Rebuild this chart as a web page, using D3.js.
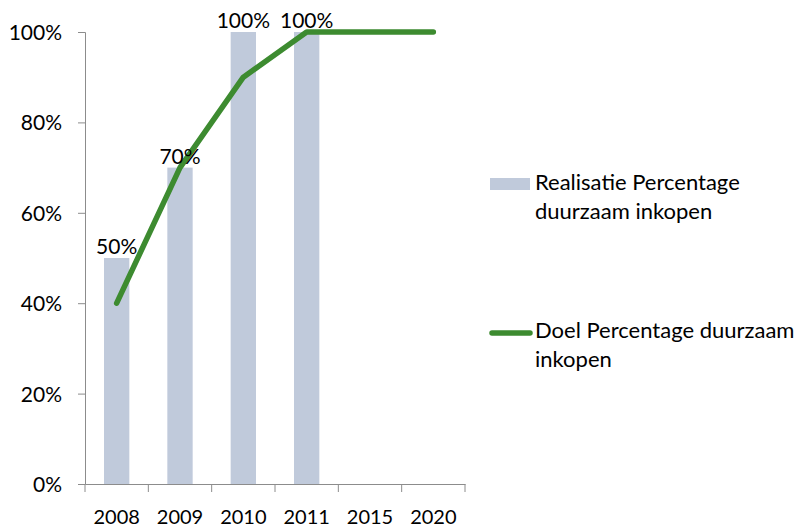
<!DOCTYPE html>
<html>
<head>
<meta charset="utf-8">
<script src="https://cdn.jsdelivr.net/npm/d3@7"></script>
<style>
  body { margin: 0; background: #fff; }
  text { font-family: Lato, "Open Sans", sans-serif; fill: #000; }
</style>
</head>
<body>
<svg id="chart" width="802" height="527"></svg>
<script>
// Chart data
const years = ["2008", "2009", "2010", "2011", "2015", "2020"];
const realisatie = [0.5, 0.7, 1.0, 1.0, null, null];
const doel = [0.4, 0.7, 0.9, 1.0, 1.0, 1.0];
const yTicks = [0, 0.2, 0.4, 0.6, 0.8, 1.0];
const legendLabels = [
  ["Realisatie Percentage", "duurzaam inkopen"],
  ["Doel Percentage duurzaam", "inkopen"]
];

const barColor = "#c0cadb";
const lineColor = "#3d8b30";
const axisColor = "#8c8c8c";

let margin = {top: 32, right: 337, bottom: 43, left: 85},
    width = 802 - margin.left - margin.right,
    height = 527 - margin.top - margin.bottom;

let svg = d3.select("#chart")
  .append("g")
  .attr("transform", "translate(" + margin.left + "," + margin.top + ")");

let x = d3.scaleBand().domain(years).range([0, width]).padding(0);
let y = d3.scaleLinear().domain([0, 1]).range([height, 0]);
let barW = x.bandwidth() * 0.4;

// Bars
let barData = years.map((d, i) => ({year: d, v: realisatie[i]})).filter(d => d.v != null);
svg.selectAll(".bar")
  .data(barData)
  .enter().append("rect")
  .attr("class", "bar")
  .attr("x", d => x(d.year) + x.bandwidth() / 2 - barW / 2)
  .attr("width", barW)
  .attr("y", d => y(d.v))
  .attr("height", d => height - y(d.v))
  .attr("fill", barColor);

// Y axis
let yAxis = svg.append("g")
  .call(d3.axisLeft(y).tickValues(yTicks).tickFormat(d3.format(".0%")).tickSize(7).tickPadding(16));
yAxis.selectAll("line, path").attr("stroke", axisColor);
yAxis.selectAll("text").style("font-size", "21px").attr("dy", "0.36em");

// X axis: line + boundary ticks + labels
let xAxis = svg.append("g")
  .attr("transform", "translate(0," + height + ")")
  .call(d3.axisBottom(x).tickSize(0).tickPadding(0));
xAxis.select(".domain").attr("stroke", axisColor);
xAxis.selectAll("text").style("font-size", "20px").attr("y", 40).attr("dy", 0);
let bounds = years.map(d => x(d)).concat([x(years[years.length - 1]) + x.bandwidth()]);
xAxis.selectAll(".bound")
  .data(bounds)
  .enter().append("line")
  .attr("x1", d => d).attr("x2", d => d)
  .attr("y1", 0).attr("y2", 8)
  .attr("stroke", axisColor);

// Line
let valueline = d3.line()
  .x((d, i) => x(years[i]) + x.bandwidth() / 2)
  .y(d => y(d));
svg.append("path")
  .datum(doel)
  .attr("d", valueline)
  .attr("fill", "none")
  .attr("stroke", lineColor)
  .attr("stroke-width", 5.5)
  .attr("stroke-linecap", "round")
  .attr("stroke-linejoin", "round");

// Data labels
svg.selectAll(".lbl")
  .data(barData)
  .enter().append("text")
  .attr("x", d => x(d.year) + x.bandwidth() / 2)
  .attr("y", d => y(d.v) - 4)
  .attr("text-anchor", "middle")
  .style("font-size", "21px")
  .text(d => d3.format(".0%")(d.v));

// Legend
let legend = d3.select("#chart").append("g").attr("transform", "translate(490,0)");
legend.append("rect").attr("x", 0).attr("y", 178).attr("width", 40).attr("height", 12).attr("fill", barColor);
legend.append("line").attr("x1", 2).attr("x2", 40).attr("y1", 333).attr("y2", 333)
  .attr("stroke", lineColor).attr("stroke-width", 5.5).attr("stroke-linecap", "round");
let legendY = [190, 338];
legendLabels.forEach((lines, i) => {
  let t = legend.append("text").attr("x", 45).attr("y", legendY[i]).style("font-size", "22px");
  lines.forEach((l, j) => {
    t.append("tspan").attr("x", 45).attr("dy", j === 0 ? 0 : 29).text(l);
  });
});
</script>
</body>
</html>
